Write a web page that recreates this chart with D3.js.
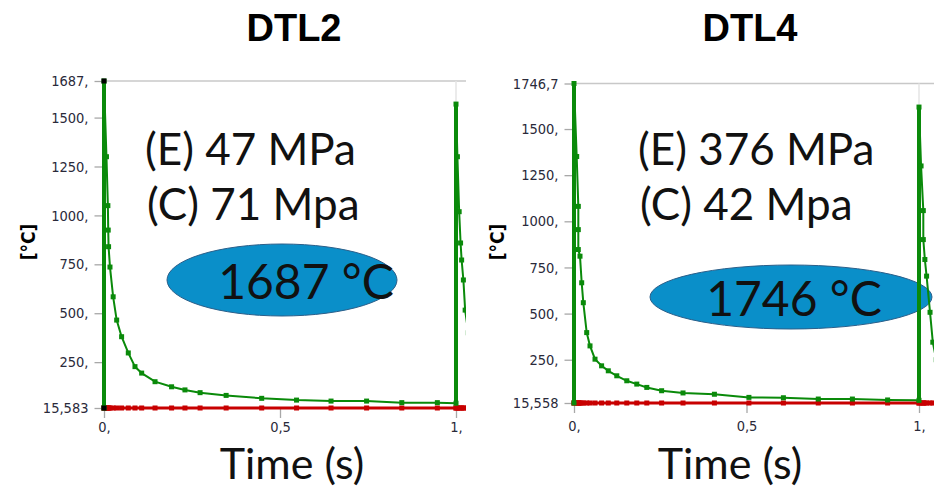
<!DOCTYPE html>
<html>
<head>
<meta charset="utf-8">
<script src="https://cdn.jsdelivr.net/npm/d3@7"></script>
<style>
  html, body { margin: 0; padding: 0; background: #fff; }
  svg { display: block; }
</style>
</head>
<body>
<svg id="chart" width="934" height="487"></svg>
<script>
// ---------------- DATA ----------------
const panelTitles = ["DTL2", "DTL4"];
const stressE = ["(E) 47 MPa", "(E) 376 MPa"];
const stressC = ["(C) 71 Mpa", "(C) 42 Mpa"];
const peakLabels = ["1687 °C", "1746 °C"];

const yMin = [15.583, 15.558];
const yMax = [1687, 1746.7];
const yTickValues = [
  [15.583, 250, 500, 750, 1000, 1250, 1500, 1687],
  [15.558, 250, 500, 750, 1000, 1250, 1500, 1746.7]
];
const yTickLabels = [
  ["15,583", "250,", "500,", "750,", "1000,", "1250,", "1500,", "1687,"],
  ["15,558", "250,", "500,", "750,", "1000,", "1250,", "1500,", "1746,7"]
];
const xTickValues = [0, 0.5, 1];
const xTickLabels = ["0,", "0,5", "1,"];

// DTL2: time (s) and max temperature (°C)
const dtl2Time = [0, 0, 0.007, 0.011, 0.012, 0.013, 0.017, 0.026, 0.036, 0.050, 0.069, 0.088, 0.107, 0.145,
  0.192, 0.230, 0.273, 0.347, 0.448, 0.547, 0.645, 0.746, 0.846, 0.947, 1.0, 1.0, 1.004, 1.009, 1.013,
  1.016, 1.021, 1.026, 1.035];
const dtl2Max = [15.583, 1687, 1300, 1050, 925, 840, 736, 584, 465, 380, 297, 227, 194, 150,
  124, 108, 94, 80, 65, 56, 51, 51, 43, 43, 40, 1569, 1300, 1019, 859,
  772, 670, 516, 400];
// DTL2 min temperature (°C), same time stamps
const dtl2Min = dtl2Time.map(() => 15.583);

// DTL4
const dtl4Time = [0, 0, 0.0078, 0.0125, 0.0125, 0.0125, 0.0174, 0.0223, 0.027, 0.0368, 0.0464, 0.0609, 0.080,
  0.0994, 0.124, 0.153, 0.182, 0.211, 0.254, 0.316, 0.407, 0.507, 0.607, 0.708, 0.807, 0.909, 1.0, 1.0,
  1.006, 1.0125, 1.0125, 1.017, 1.022, 1.032, 1.040, 1.05];
const dtl4Max = [15.558, 1746.7, 1351, 1081, 955, 847, 811, 667, 559, 397, 325, 253, 217,
  190, 163, 136, 118, 100, 82, 70, 63, 46, 44, 37, 37, 32, 30, 1619,
  1300, 1058, 901, 793, 703, 507, 345, 250];
const dtl4Min = dtl4Time.map(() => 15.558);

const times = [dtl2Time, dtl4Time];
const maxT = [dtl2Max, dtl4Max];
const minT = [dtl2Min, dtl4Min];
const selectedMarker = [true, false];

// ---------------- LAYOUT ----------------
const layout = [
  { x0: 104, x1: 456, clipR: 466, yTop: 81, yBot: 408, titleX: 294, labelX: 28, xPad: 4,
    ell: { cx: 282, cy: 280, rx: 115, ry: 36 }, textX: 145, timeX: 292, peakX: 306 },
  { x0: 574, x1: 919, clipR: 934, yTop: 83.5, yBot: 403, titleX: 750, labelX: 497, xPad: 8,
    ell: { cx: 791, cy: 297, rx: 141, ry: 32 }, textX: 638, timeX: 730, peakX: 794 }
];

const svg = d3.select("#chart");
const green = "#0a8a0a", red = "#c80000", grid = "#c8c8c8", tickCol = "#a8a8a8";
const tickFont = "'DejaVu Sans Condensed', 'DejaVu Sans', sans-serif";
const annFont = "Lato, 'Open Sans', sans-serif";

layout.forEach((L, i) => {
  const x = d3.scaleLinear().domain([0, 1]).range([L.x0, L.x1]);
  const y = d3.scaleLinear().domain([yMin[i], yMax[i]]).range([L.yBot, L.yTop]);
  const g = svg.append("g");

  // Title
  g.append("text").attr("x", L.titleX).attr("y", 41).attr("text-anchor", "middle")
    .attr("font-family", "'Liberation Sans', Arial, sans-serif").attr("font-weight", "bold")
    .attr("font-size", 38).attr("fill", "#000").text(panelTitles[i]);

  // top gridline + vertical gridline at t=1
  g.append("line").attr("x1", x(0)).attr("x2", L.clipR).attr("y1", y(yMax[i])).attr("y2", y(yMax[i]))
    .attr("stroke", grid).attr("stroke-width", 1.5);
  g.append("line").attr("x1", x(1)).attr("x2", x(1)).attr("y1", y(yMax[i])).attr("y2", L.yBot)
    .attr("stroke", "#e4e4e4").attr("stroke-width", 1.5);

  // Y axis
  const yAxis = d3.axisLeft(y).tickValues(yTickValues[i]).tickSize(9).tickPadding(6)
    .tickFormat((d, k) => yTickLabels[i][k]);
  const ya = g.append("g").attr("transform", `translate(${x(0) - 0.5},0)`).call(yAxis);
  ya.select(".domain").remove();
  ya.selectAll(".tick line").attr("stroke", tickCol).attr("stroke-width", 1.3);
  ya.selectAll(".tick text").attr("font-family", tickFont).attr("font-size", 14.5)
    .attr("fill", "#2a2a3a");

  // X axis
  const xAxis = d3.axisBottom(x).tickValues(xTickValues).tickSize(10).tickPadding(L.xPad)
    .tickFormat((d, k) => xTickLabels[k]);
  const xa = g.append("g").attr("transform", `translate(0,${L.yBot})`).call(xAxis);
  xa.select(".domain").attr("stroke", grid).attr("d", `M${x(0)},0.5H${L.clipR}`);
  xa.selectAll(".tick line").attr("stroke", tickCol).attr("stroke-width", 1.3);
  xa.selectAll(".tick text").attr("font-family", tickFont).attr("font-size", 14.5)
    .attr("fill", "#2a2a3a");

  // Y axis title
  g.append("text").attr("transform", `translate(${L.labelX},242) rotate(-90)`)
    .attr("text-anchor", "middle").attr("dy", "0.35em")
    .attr("font-family", tickFont).attr("font-weight", "bold").attr("font-size", 19)
    .attr("fill", "#000").text("[°C]");

  // Ellipse
  g.append("ellipse").attr("cx", L.ell.cx).attr("cy", L.ell.cy).attr("rx", L.ell.rx).attr("ry", L.ell.ry)
    .attr("fill", "#0a8fc9").attr("stroke", "#2b5f8a").attr("stroke-width", 1);

  // clip
  const clipId = "clip" + i;
  svg.append("clipPath").attr("id", clipId).append("rect")
    .attr("x", x(0) - 4).attr("y", 0).attr("width", L.clipR - x(0) + 4).attr("height", L.yBot + 3);
  const plot = g.append("g").attr("clip-path", `url(#${clipId})`);

  const ptsMax = times[i].map((t, k) => [t, maxT[i][k]]);
  const ptsMin = times[i].map((t, k) => [t, minT[i][k]]);
  const line = d3.line().x(d => x(d[0])).y(d => y(d[1]));

  // red min series
  const redPts = ptsMin.concat([[1.2, yMin[i]]]);
  plot.append("path").datum(redPts).attr("d", line).attr("fill", "none")
    .attr("stroke", red).attr("stroke-width", 3.2);
  plot.selectAll(".rm").data(ptsMin).join("rect")
    .attr("x", d => x(d[0]) - 2.5).attr("y", d => y(d[1]) - 2.5).attr("width", 5).attr("height", 5)
    .attr("fill", red);

  // green max series
  plot.append("path").datum(ptsMax).attr("d", line).attr("fill", "none")
    .attr("stroke", green).attr("stroke-width", 2).attr("stroke-linejoin", "miter");
  // thick verticals at heating spikes
  ptsMax.forEach((p, k) => {
    if (k > 0 && ptsMax[k - 1][0] === p[0] && p[1] > ptsMax[k - 1][1] + 500) {
      plot.append("line").attr("x1", x(p[0])).attr("x2", x(p[0]))
        .attr("y1", y(ptsMax[k - 1][1])).attr("y2", y(p[1]))
        .attr("stroke", green).attr("stroke-width", 4);
    }
  });
  plot.selectAll(".gm").data(ptsMax).join("rect")
    .attr("x", d => x(d[0]) - 2.5).attr("y", d => y(d[1]) - 2.5).attr("width", 5).attr("height", 5)
    .attr("fill", green);

  if (selectedMarker[i]) {
    plot.selectAll(".sel").data(ptsMax.slice(0, 2)).join("rect")
      .attr("x", d => x(d[0]) - 2.5).attr("y", d => y(d[1]) - 2.5).attr("width", 5).attr("height", 5)
      .attr("fill", "#000");
  }

  // Annotations
  g.append("text").attr("x", L.textX).attr("y", 165).attr("font-family", annFont)
    .attr("font-size", 44).attr("fill", "#111").text(stressE[i]);
  g.append("text").attr("x", L.textX + 2).attr("y", 220).attr("font-family", annFont)
    .attr("font-size", 44).attr("fill", "#111").text(stressC[i]);
  g.append("text").attr("x", L.peakX).attr("y", L.ell.cy + 19).attr("text-anchor", "middle")
    .attr("font-family", annFont).attr("font-size", 48).attr("fill", "#111").text(peakLabels[i]);

  // X axis title
  g.append("text").attr("x", L.timeX).attr("y", 479).attr("text-anchor", "middle")
    .attr("font-family", annFont).attr("font-size", 43).attr("fill", "#111").text("Time (s)");
});
</script>
</body>
</html>
